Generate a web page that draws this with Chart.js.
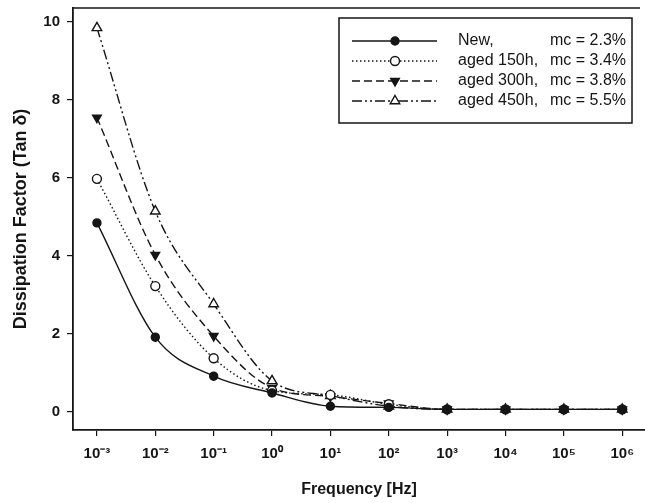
<!DOCTYPE html>
<html>
<head>
<meta charset="utf-8">
<script src="https://cdn.jsdelivr.net/npm/chart.js@4"></script>
<style>
  html, body { margin: 0; padding: 0; background: #fff; }
  #wrap { width: 645px; height: 503px; }
</style>
</head>
<body>
<div id="wrap"><canvas id="tanchart"></canvas></div>
<script>
// frequencies in Hz, one per measured point
var freqs = [1e-3, 1e-2, 1e-1, 1e0, 1e1, 1e2, 1e3, 1e4, 1e5, 1e6];

var tanNew     = [4.85, 1.92, 0.92, 0.49, 0.15, 0.12, 0.07, 0.07, 0.07, 0.07];
var tanAged150 = [5.98, 3.23, 1.38, 0.55, 0.44, 0.20, 0.07, 0.07, 0.07, 0.07];
var tanAged300 = [7.55, 4.03, 1.95, 0.62, 0.40, 0.22, 0.07, 0.07, 0.07, 0.07];
var tanAged450 = [9.85, 5.15, 2.77, 0.80, 0.42, 0.15, 0.07, 0.07, 0.07, 0.07];

var seriesNames = ["New,", "aged 150h,", "aged 300h,", "aged 450h,"];
var seriesMc = ["mc = 2.3%", "mc = 3.4%", "mc = 3.8%", "mc = 5.5%"];

var yTicks = [0, 2, 4, 6, 8, 10];
var xTicks = freqs;

var ink = "#151515";
var FONT = "'Liberation Sans', Arial, Helvetica, sans-serif";

var sup = { "-": "\u207B", "0": "\u2070", "1": "\u00B9", "2": "\u00B2", "3": "\u00B3",
            "4": "\u2074", "5": "\u2075", "6": "\u2076", "7": "\u2077", "8": "\u2078", "9": "\u2079" };
function powLabel(v) {
  var e = String(Math.round(Math.log10(v)));
  var s = "";
  for (var i = 0; i < e.length; i++) s += sup[e[i]];
  return "10" + s;
}

function pts(arr) {
  return arr.map(function (v, i) { return { x: freqs[i], y: v }; });
}

function makeSet(name, data, dash, style, filled, rot, radius) {
  return {
    label: name,
    data: pts(data),
    borderColor: ink,
    borderWidth: 1.4,
    borderDash: dash,
    pointStyle: style,
    rotation: rot,
    pointRadius: radius,
    pointBorderWidth: 1.4,
    pointBorderColor: ink,
    pointBackgroundColor: filled ? ink : "#fff",
    cubicInterpolationMode: "monotone",
    fill: false
  };
}

var datasets = [
  makeSet(seriesNames[0], tanNew, [], "circle", true, 0, 4),
  makeSet(seriesNames[1], tanAged150, [1.5, 2.5], "circle", false, 0, 4.5),
  makeSet(seriesNames[2], tanAged300, [8, 4], "triangle", true, 180, 5),
  makeSet(seriesNames[3], tanAged450, [10, 3, 2, 3, 2, 3], "triangle", false, 0, 5.5)
];

// legend box drawn inside the plot, top right, with line + marker samples
var legendBox = {
  id: "legendBox",
  afterDraw: function (chart) {
    var ctx = chart.ctx;
    var x0 = 339, y0 = 18, x1 = 632, y1 = 123;
    ctx.save();
    ctx.fillStyle = "#fff";
    ctx.fillRect(x0, y0, x1 - x0, y1 - y0);
    ctx.strokeStyle = ink;
    ctx.lineWidth = 1.5;
    ctx.strokeRect(x0, y0, x1 - x0, y1 - y0);
    var rows = [41, 61, 81, 101];
    chart.data.datasets.forEach(function (ds, i) {
      var y = rows[i];
      ctx.strokeStyle = ink;
      ctx.lineWidth = 1.4;
      ctx.setLineDash(ds.borderDash);
      ctx.beginPath();
      ctx.moveTo(352, y);
      ctx.lineTo(437, y);
      ctx.stroke();
      ctx.setLineDash([]);
      // sample marker through the library's own point drawing
      ctx.fillStyle = ds.pointBackgroundColor;
      ctx.strokeStyle = ink;
      ctx.lineWidth = 1.4;
      Chart.helpers.drawPoint(ctx, {
        pointStyle: ds.pointStyle, rotation: ds.rotation,
        radius: ds.pointRadius, borderWidth: 1.4
      }, 395, y);
      ctx.fillStyle = ink;
      ctx.font = "16px " + FONT;
      ctx.textBaseline = "middle";
      ctx.textAlign = "left";
      ctx.fillText(seriesNames[i], 458, y);
      ctx.textAlign = "right";
      ctx.fillText(seriesMc[i], 626, y);
    });
    ctx.restore();
  }
};

// top frame line of the plot
var topFrame = {
  id: "topFrame",
  afterDraw: function (chart) {
    var a = chart.chartArea, ctx = chart.ctx;
    ctx.save();
    ctx.strokeStyle = ink;
    ctx.lineWidth = 1.5;
    ctx.beginPath();
    ctx.moveTo(a.left, a.top);
    ctx.lineTo(a.right - 5, a.top);
    ctx.stroke();
    ctx.restore();
  }
};

new Chart(document.getElementById("tanchart"), {
  type: "line",
  data: { datasets: datasets },
  plugins: [legendBox, topFrame],
  options: {
    responsive: true,
    maintainAspectRatio: false,
    animation: false,
    layout: { autoPadding: false, padding: { top: 8, right: 0, left: 0, bottom: 0 } },
    plugins: { legend: { display: false }, tooltip: { enabled: false } },
    scales: {
      x: {
        type: "logarithmic",
        min: Math.pow(10, -3.41),
        max: Math.pow(10, 6.39),
        afterBuildTicks: function (scale) {
          scale.ticks = xTicks.map(function (v) { return { value: v }; });
        },
        afterFit: function (scale) { scale.height = 73; },
        ticks: {
          autoSkip: false,
          maxRotation: 0,
          padding: 9,
          color: ink,
          font: { family: FONT, size: 15, weight: "bold" },
          callback: function (v) { return powLabel(v); }
        },
        grid: { drawOnChartArea: false, drawTicks: true, tickLength: 6, color: ink, lineWidth: 1.2 },
        border: { display: true, color: ink, width: 1.8 },
        title: {
          display: true,
          text: "Frequency [Hz]",
          color: ink,
          font: { family: FONT, size: 16, weight: "bold" },
          padding: { top: 12 }
        }
      },
      y: {
        min: -0.46,
        max: 10.36,
        afterBuildTicks: function (scale) {
          scale.ticks = yTicks.map(function (v) { return { value: v }; });
        },
        afterFit: function (scale) {
          scale.width = 73;
          scale.paddingTop = 0;
          scale.paddingBottom = 0;
        },
        ticks: {
          padding: 7,
          color: ink,
          font: { family: FONT, size: 15, weight: "bold" }
        },
        grid: { drawOnChartArea: false, drawTicks: true, tickLength: 6, color: ink, lineWidth: 1.2 },
        border: { display: true, color: ink, width: 1.8 },
        title: {
          display: true,
          text: "Dissipation Factor (Tan \u03B4)",
          color: ink,
          font: { family: FONT, size: 18, weight: "bold" },
          padding: { top: 10, bottom: 4 }
        }
      }
    }
  }
});
</script>
</body>
</html>
